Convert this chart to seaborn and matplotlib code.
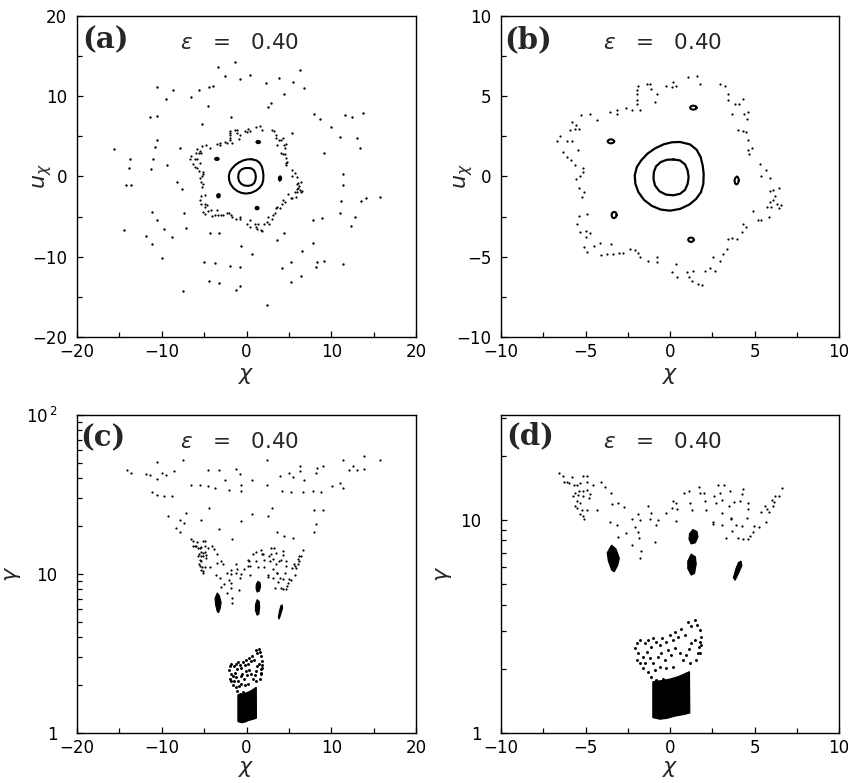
import matplotlib
matplotlib.use("Agg")
import matplotlib.pyplot as plt
from matplotlib.ticker import MultipleLocator, FixedLocator, FixedFormatter, LogLocator, NullFormatter
import seaborn as sns

# ---------------- data ----------------
# outer chaotic layer (only in panel a), chi / u_chi
outer_x = [-3.4, -1.4, -2.5, -0.75, 0.4, 2.3, 3.8, 6.3, 5.5, 6.8, 4.4, 2.5, -1.8, -5.3, -4.5, -6.6,
           -5.6, -4.4, -3.9, -8.7, -9.5, -10.6, -10.6, -11.4, -10.6, -10.8, -7.8, -9.4, -11.0, -11.3,
           -13.7, -13.9, -14.2, -13.6, -15.6, -8.2, -7.6, -11.1, -10.6, -7.4, -9.7, -11.9, -14.4,
           -11.2, -8.8, -10.0, -7.2, -4.3, -3.3, -0.6, 0.6, -2.0, -0.8, -3.7, -5.0, -4.4, -3.2, -1.3,
           -0.8, -7.5, 2.4, 3.6, 4.4, 5.3, 4.2, 6.4, 5.3, 6.6, 7.8, 8.3, 8.2, 9.1, 11.4, 7.8, 8.9,
           11.0, 11.2, 12.3, 12.8, 13.5, 14.1, 15.8, 11.4, 11.4, 9.1, 11.0, 13.0, 13.4, 10.0, 7.9,
           8.7, 11.6, 12.4, 13.7, 5.4, 2.9]
outer_u = [13.7, 14.3, 12.5, 12.1, 12.6, 11.7, 12.3, 13.3, 11.8, 11.0, 10.3, 8.6, 7.4, 6.5, 8.8, 9.9,
           10.8, 11.1, 11.3, 10.8, 9.6, 11.1, 7.5, 7.4, 4.6, 3.7, 3.6, 1.4, 2.2, 0.9,
           2.2, 1.1, -1.1, -1.0, 3.4, -0.7, -1.6, -4.4, -5.4, -4.6, -6.5, -7.4, -6.7,
           -8.4, -7.6, -10.2, -6.4, -7.0, -7.1, -8.7, -9.7, -11.1, -11.3, -10.8, -10.6, -13.0, -13.3, -14.1,
           -13.6, -14.3, -16.0, -7.9, -7.0, -10.6, -11.4, -12.4, -13.1, -9.3, -8.3, -10.6, -11.3, -10.5, -10.9, -5.4, -5.2,
           -4.5, -3.0, -6.2, -5.1, -3.0, -2.7, -2.5, -1.1, 0.3, 2.9, 4.9, 4.8, 3.5, 6.2, 7.8,
           7.2, 7.6, 7.4, 7.9, 5.4, 9.1]

# inner chaotic layer (panels a and b)
ring_x = [1.06, 1.57, 1.77, 0.20, 0.35, 0.10, -0.24, -1.18, -1.34, -1.14, -0.79, -0.89, -1.91, -1.97,
          -1.93, -1.93, -1.93, -1.77, -2.26, -2.60, -3.15, -3.11, -3.54, -4.33, -4.76, -5.28, -5.81,
          -5.55, -5.91, -5.65, -5.41, -6.50, -6.69, -6.10, -5.81, -5.47, -6.34, -6.10, -5.87, -5.61,
          -5.16, -5.16, -5.31, -5.55, -5.41, -5.12, -5.22, -5.41, -4.92, -5.51, -5.35, -4.96, -4.72,
          -4.96, -5.12, -4.92, -4.49, -4.17, -3.50, -4.09, -3.74, -3.39, -3.05, -2.76, -2.36, -2.07,
          -1.87, -1.77, -1.28, -0.79, -0.75, 0.35, 0.10, 0.39, 0.98, 1.34, 1.14, 1.28, 1.67, 1.87,
          2.07, 2.36, 2.66, 2.56, 2.95, 3.11, 3.35, 3.64, 3.44, 3.94, 4.23, 4.29, 4.49, 4.92, 5.22,
          5.41, 5.87, 6.00, 5.75, 5.91, 6.10, 6.34, 6.59, 6.46, 6.20, 5.91, 6.10, 6.46, 5.91, 5.41,
          5.67, 5.31, 4.69, 4.82, 4.63, 4.63, 4.49, 4.04, 4.29, 4.53, 4.63, 4.37, 4.07, 4.29, 3.84,
          3.64, 3.44, 3.25, 2.95, 3.44]
ring_u = [6.21, 6.25, 5.75, 5.90, 5.63, 5.58, 5.63, 5.79, 5.75, 5.48, 5.13, 4.65, 5.63, 5.38,
          5.13, 4.75, 4.54, 4.13, 4.13, 4.29, 4.17, 3.88, 4.00, 3.54, 3.92, 3.81, 3.40,
          3.19, 2.88, 2.94, 2.94, 2.50, 2.21, 2.19, 2.21, 1.63, 1.52, 1.21, 1.00, 0.69,
          0.54, 0.27, 0.06, -0.15, -0.71, -0.98, -1.25, -2.44, -2.33, -2.96, -3.48, -3.42, -3.54,
          -3.79, -4.42, -4.73, -4.31, -4.17, -4.21, -4.88, -4.83, -4.83, -4.79, -4.79, -4.52, -4.58,
          -4.79, -5.04, -5.25, -5.04, -5.35, -5.46, -5.98, -6.25, -5.98, -5.88, -6.29, -6.50, -6.67, -6.75,
          -5.88, -5.67, -5.88, -5.04, -5.25, -4.83, -4.52, -3.83, -3.90, -3.90, -3.48, -2.96, -3.17, -2.13, -2.71,
          -2.71, -2.54, -1.92, -1.92, -1.60, -1.46, -1.71, -1.75, -1.96, -1.19, -0.88, -0.83, -0.71, -0.08, 0.06,
          0.38, 0.79, 1.42, 1.79, 1.67, 2.29, 2.77, 2.88, 2.83, 3.60, 4.02, 3.92, 4.54, 4.85, 4.54,
          3.88, 5.17, 5.63, 5.79, 4.75]

# regular (KAM) curves around the centre
torus_out_x = [0.59, 1.18, 1.57, 1.81, 1.93, 1.99, 1.97, 1.83, 1.54, 1.14, 0.59, 0.00, -0.55, -1.08,
               -1.54, -1.87, -2.05, -2.09, -1.97, -1.71, -1.34, -0.89, -0.39, 0.10, 0.59]
torus_out_u = [2.15, 2.00, 1.67, 1.21, 0.69, 0.17, -0.46, -0.98, -1.40, -1.75, -2.02, -2.13, -2.06, -1.83,
               -1.46, -0.98, -0.46, 0.06, 0.58, 1.00, 1.42, 1.75, 2.00, 2.13, 2.15]
torus_in_x = [0.20, 0.59, 0.89, 1.04, 1.10, 1.04, 0.89, 0.59, 0.20, -0.24, -0.63, -0.89, -0.98, -0.96,
              -0.83, -0.55, -0.20, 0.20]
torus_in_u = [1.06, 1.00, 0.75, 0.38, -0.04, -0.46, -0.83, -1.08, -1.17, -1.13, -0.92, -0.56, -0.15, 0.27,
              0.63, 0.90, 1.04, 1.06]

# five small islands (resonance chain)
isl1_x = [1.58, 1.52, 1.38, 1.24, 1.18, 1.24, 1.38, 1.52, 1.58]
isl1_u = [4.29, 4.38, 4.42, 4.38, 4.29, 4.20, 4.16, 4.20, 4.29]
isl2_x = [-3.30, -3.36, -3.50, -3.64, -3.70, -3.64, -3.50, -3.36, -3.30]
isl2_u = [2.19, 2.28, 2.32, 2.28, 2.19, 2.10, 2.06, 2.10, 2.19]
isl3_x = [4.07, 4.03, 3.96, 3.87, 3.81, 3.85, 3.92, 4.01, 4.07]
isl3_u = [-0.25, -0.06, 0.00, -0.08, -0.25, -0.42, -0.50, -0.44, -0.25]
isl4_x = [-3.16, -3.20, -3.30, -3.42, -3.46, -3.42, -3.32, -3.21, -3.16]
isl4_u = [-2.40, -2.25, -2.20, -2.26, -2.40, -2.55, -2.60, -2.54, -2.40]
isl5_x = [1.41, 1.36, 1.24, 1.12, 1.07, 1.12, 1.24, 1.36, 1.41]
isl5_u = [-3.94, -3.84, -3.80, -3.84, -3.94, -4.04, -4.08, -4.04, -3.94]

# gamma vs chi: upper scattered layer (panel c)
upper_x = [-14.1, -13.6, -11.9, -11.4, -10.6, -10.6, -10.0, -9.5, -8.6, -7.5, -11.2, -10.6, -9.7, -8.8,
           -6.6, -5.5, -4.6, -3.7, -4.5, -3.3, -1.3, -0.8, -2.5, -2.1, -0.7, -0.7, 0.6, 2.4, 2.4,
           4.0, 5.0, 5.5, 6.3, 6.3, 6.8, 8.3, 8.2, 9.0, 4.2, 5.3, 6.7, 7.8, 8.8, 10.1, 11.0, 11.4,
           11.4, 12.6, 13.0, 13.8, 13.8, 15.8, 12.1, -9.3, -7.1, -7.9, -7.4, -8.3, -7.9, -5.4, -4.4,
           -3.3, -1.7, -0.6, 0.6, 2.5, 3.0, 3.6, 4.4, 5.5, 7.9, 9.0, 8.2, 7.9]
upper_g = [44.9, 43.2, 42.8, 42.1, 50.4, 39.6, 43.2, 42.1, 44.2, 52.4, 32.6, 31.5, 30.8, 31.1,
           36.5, 36.5, 35.9, 34.7, 44.9, 44.9, 45.7, 42.8, 38.8, 33.6, 33.1, 36.5, 38.8, 51.9, 36.5,
           41.1, 43.2, 40.7, 48.0, 44.2, 39.2, 46.4, 43.2, 48.0, 33.1, 32.6, 32.6, 33.1, 32.6, 35.6, 37.4, 34.7,
           51.9, 48.0, 44.9, 55.0, 45.7, 51.9, 45.3, 23.3, 24.2, 21.7, 20.9, 19.5, 18.5, 22.0, 26.0,
           19.2, 16.6, 21.4, 23.9, 23.3, 26.0, 18.5, 17.3, 16.8, 25.1, 25.1, 20.7, 18.5]

# gamma vs chi: middle band (inner chaotic layer)
band_x = [-6.60, -6.35, -6.11, -5.82, -6.27, -5.95, -5.68, -5.48, -5.32, -5.13, -4.89, -4.93, -4.54,
          -4.11, -3.85, -5.62, -5.36, -5.17, -4.93, -5.72, -5.42, -5.17, -4.77, -4.73, -5.52, -5.62,
          -5.32, -5.48, -5.23, -4.93, -5.32, -5.17, -5.09, -4.30, -3.52, -3.46, -3.06, -2.73, -3.56,
          -3.12, -2.61, -3.06, -2.28, -1.89, -1.79, -2.08, -1.89, -1.83, -1.69, -1.75, -2.28, -1.30,
          -1.10, -1.20, -0.81, -0.71, -0.90, -0.26, 0.18, 0.14, 0.41, 0.37, 0.33, 0.81, 1.12, 1.71,
          1.98, 1.79, 1.16, 1.32, 2.04, 2.10, 2.53, 2.63, 2.93, 2.83, 3.22, 3.52, 3.08, 2.73, 3.08,
          3.48, 3.61, 3.81, 4.11, 4.34, 4.26, 4.60, 4.60, 4.54, 4.26, 3.91, 3.67, 3.32, 4.01, 4.34,
          4.60, 4.73, 4.89, 4.99, 5.28, 5.38, 5.64, 5.87, 5.72, 6.03, 6.17, 6.07, 6.23, 6.42, 6.62,
          5.68, 3.08, 2.57, 3.61]
band_g = [16.6, 16.1, 15.1, 15.9, 15.0, 14.9, 14.5, 14.6, 14.8, 16.1, 16.1, 15.1, 14.5,
          15.0, 14.3, 13.4, 13.7, 13.6, 13.8, 12.9, 13.0, 12.9, 12.6, 13.2, 12.2, 11.6,
          12.0, 11.3, 11.1, 11.1, 10.6, 10.4, 10.1, 11.1, 13.3, 11.8, 12.0, 11.5, 9.8,
          9.4, 8.7, 8.3, 10.1, 10.6, 10.0, 9.2, 8.8, 8.2, 7.1, 6.6, 7.6, 11.6,
          10.7, 10.1, 9.5, 10.0, 7.9, 10.8, 12.2, 11.3, 11.2, 9.9, 12.0, 13.4, 13.7, 14.2,
          13.4, 13.3, 12.0, 11.1, 12.3, 11.1, 9.6, 12.9, 13.3, 14.6, 14.5, 13.6, 12.4, 12.0, 10.7,
          11.6, 10.2, 12.1, 12.3, 13.9, 13.2, 12.0, 11.2, 10.2, 9.3, 9.4, 8.9, 8.2, 8.2, 8.1,
          8.1, 8.4, 8.8, 9.3, 9.2, 10.9, 11.6, 10.9, 11.2, 12.4, 12.1, 11.6, 12.9, 12.9, 14.1,
          9.8, 9.4, 9.8, 10.1]

# gamma vs chi: lower scattered cluster
clus_x = [1.06, 1.26, 1.45, 1.59, 1.75, 1.85, 1.79, 1.71, 1.65, 1.45, 1.26, 1.12, 0.86, 0.67, 0.47,
          0.28, 0.18, -0.02, -0.22, -0.45, -0.61, -0.81, -1.00, -1.10, -1.30, -1.49, -1.79, -1.98,
          -2.08, -1.89, -1.98, -1.79, -1.59, -1.39, -1.20, -1.00, -0.71, -0.51, -0.31, -0.12, 0.08,
          0.28, 0.57, 0.77, 0.96, 1.16, 1.55, 1.75, -1.59, -1.30, -0.90, -0.61, -0.22, 0.18, -1.10,
          -0.81, -0.41, -1.49, 1.85]
clus_g = [3.33, 3.17, 3.39, 3.21, 3.04, 2.83, 2.68, 2.54, 2.38, 2.73, 2.63, 2.47, 2.88, 3.06, 2.83,
          2.98, 2.73, 2.88, 2.68, 2.78, 2.58, 2.68, 2.78, 2.54, 2.73, 2.63, 2.73, 2.63,
          2.49, 2.36, 2.20, 2.12, 2.28, 2.40, 2.24, 2.12, 2.28, 2.36, 2.20, 2.45, 2.32,
          2.49, 2.36, 2.20, 2.32, 2.12, 2.20, 2.36, 2.01, 1.94, 1.97, 2.04, 2.01, 2.04, 1.83,
          1.77, 1.80, 2.12, 2.58]

# dense regular core (outline of the filled region)
core_x = [-1.02, -1.02, -0.5, 0.0, 0.5, 0.9, 1.15, 1.17, 0.8, 0.3, -0.2, -0.6, -1.02]
core_g = [1.18, 1.74, 1.76, 1.79, 1.84, 1.90, 1.94, 1.24, 1.22, 1.20, 1.17, 1.16, 1.18]

# islands in gamma vs chi (outlines of the dense blobs)
gisl1_x = [-3.46, -3.20, -3.00, -3.10, -3.30, -3.45, -3.65, -3.72, -3.46]
gisl1_g = [7.6, 7.3, 6.6, 6.1, 5.7, 5.8, 6.4, 7.0, 7.6]
gisl2_x = [1.35, 1.60, 1.65, 1.50, 1.25, 1.12, 1.15, 1.35]
gisl2_g = [9.0, 8.8, 8.3, 7.8, 7.7, 8.1, 8.6, 9.0]
gisl3_x = [1.25, 1.50, 1.55, 1.45, 1.25, 1.05, 1.05, 1.25]
gisl3_g = [6.9, 6.7, 6.2, 5.6, 5.5, 5.9, 6.4, 6.9]
gisl4_x = [4.20, 4.25, 4.05, 3.85, 3.75, 3.90, 4.05, 4.20]
gisl4_g = [6.4, 6.1, 5.6, 5.2, 5.35, 5.9, 6.3, 6.4]

panel_labels = ["(a)", "(b)", "(c)", "(d)"]
eps_label = r"$\varepsilon$   =   0.40"

# ---------------- figure ----------------
sns.set_style("ticks")
plt.rcParams["font.family"] = ["DejaVu Sans"]
plt.rcParams["mathtext.fontset"] = "dejavusans"

fig = plt.figure(figsize=(8.54, 7.83), dpi=100)
axA = fig.add_axes([0.0902, 0.5696, 0.3970, 0.4100])
axB = fig.add_axes([0.5867, 0.5696, 0.3958, 0.4100])
axC = fig.add_axes([0.0902, 0.0639, 0.3970, 0.4061])
axD = fig.add_axes([0.5867, 0.0639, 0.3958, 0.4061])

islands = [(isl1_x, isl1_u), (isl2_x, isl2_u), (isl3_x, isl3_u), (isl4_x, isl4_u), (isl5_x, isl5_u)]
gislands = [(gisl1_x, gisl1_g), (gisl2_x, gisl2_g), (gisl3_x, gisl3_g), (gisl4_x, gisl4_g)]


def dots(ax, x, y, s=2.5):
    sns.scatterplot(x=x, y=y, ax=ax, s=s, color="black", linewidth=0, marker="o", legend=False)


# panel (a)
dots(axA, outer_x, outer_u, 3.0)
dots(axA, ring_x, ring_u, 2.5)
axA.plot(torus_out_x, torus_out_u, color="black", lw=1.5)
axA.plot(torus_in_x, torus_in_u, color="black", lw=1.5)
for ix, iu in islands:
    axA.fill(ix, iu, color="black", lw=1.6, edgecolor="black")

# panel (b)
dots(axB, ring_x, ring_u, 2.5)
axB.plot(torus_out_x, torus_out_u, color="black", lw=1.6)
axB.plot(torus_in_x, torus_in_u, color="black", lw=1.6)
for ix, iu in islands:
    axB.plot(ix, iu, color="black", lw=1.5)

# panels (c) and (d)
for ax, with_upper in ((axC, True), (axD, False)):
    if with_upper:
        dots(ax, upper_x, upper_g, 2.5)
    dots(ax, band_x, band_g, 2.5)
    dots(ax, clus_x, clus_g, 4.5)
    ax.fill(core_x, core_g, color="black", lw=0.8)
    for gx, gg in gislands:
        ax.fill(gx, gg, color="black", lw=0.8)

# axes styling
for ax, lim, step in ((axA, 20, 5), (axB, 10, 2.5)):
    ax.set_xlim(-lim, lim)
    ax.set_ylim(-lim, lim)
    ax.xaxis.set_major_locator(MultipleLocator(2 * step))
    ax.yaxis.set_major_locator(MultipleLocator(2 * step))
    ax.xaxis.set_minor_locator(MultipleLocator(step))
    ax.yaxis.set_minor_locator(MultipleLocator(step))

axC.set_xlim(-20, 20)
axC.xaxis.set_major_locator(MultipleLocator(10))
axC.xaxis.set_minor_locator(MultipleLocator(5))
axD.set_xlim(-10, 10)
axD.xaxis.set_major_locator(MultipleLocator(5))
axD.xaxis.set_minor_locator(MultipleLocator(2.5))

axC.set_yscale("log")
axC.set_ylim(1, 100)
axC.yaxis.set_major_locator(FixedLocator([1, 10, 100]))
axC.yaxis.set_major_formatter(FixedFormatter(["1", "10", r"10$^{\,2}$"]))
axD.set_yscale("log")
axD.set_ylim(1, 31)
axD.yaxis.set_major_locator(FixedLocator([1, 10]))
axD.yaxis.set_major_formatter(FixedFormatter(["1", "10"]))
for ax in (axC, axD):
    ax.yaxis.set_minor_locator(LogLocator(base=10, subs=(2, 3, 4, 5, 6, 7, 8, 9)))
    ax.yaxis.set_minor_formatter(NullFormatter())

for ax in (axA, axB, axC, axD):
    for sp in ax.spines.values():
        sp.set_visible(True)
        sp.set_linewidth(1.0)
        sp.set_color("black")
    ax.tick_params(which="both", direction="in", top=False, right=False, width=0.9,
                   labelsize=12, colors="black")
    ax.tick_params(which="major", length=4.5)
    ax.tick_params(which="minor", length=3.5)
    ax.tick_params(axis="x", pad=4)
    ax.set_xlabel(r"$\chi$", fontsize=16)
for ax in (axA, axB):
    ax.tick_params(axis="y", pad=7)
for ax in (axC, axD):
    ax.tick_params(axis="y", pad=14)

axA.set_ylabel(r"$u_\chi$", fontsize=16)
axB.set_ylabel(r"$u_\chi$", fontsize=16)
axC.set_ylabel(r"$\gamma$", fontsize=16)
axD.set_ylabel(r"$\gamma$", fontsize=16)

axA.yaxis.set_label_coords(-0.068, 0.5)
axB.yaxis.set_label_coords(-0.078, 0.5)
axC.yaxis.set_label_coords(-0.16, 0.5)
axD.yaxis.set_label_coords(-0.14, 0.5)
for ax in (axA, axB):
    ax.xaxis.set_label_coords(0.5, -0.09)
for ax in (axC, axD):
    ax.xaxis.set_label_coords(0.5, -0.083)

lab_pos = [(0.015, 0.972), (0.009, 0.972), (0.009, 0.975), (0.015, 0.979)]
eps_pos = [(0.304, 0.897), (0.302, 0.896), (0.304, 0.896), (0.301, 0.896)]
for ax, lab, lp, ep in zip((axA, axB, axC, axD), panel_labels, lab_pos, eps_pos):
    ax.text(lp[0], lp[1], lab, transform=ax.transAxes, ha="left", va="top",
            fontsize=21, fontweight="bold", family="DejaVu Serif")
    ax.text(ep[0], ep[1], eps_label, transform=ax.transAxes, ha="left", va="baseline",
            fontsize=15.5)

fig.savefig("out.png", dpi=100, facecolor="white")
